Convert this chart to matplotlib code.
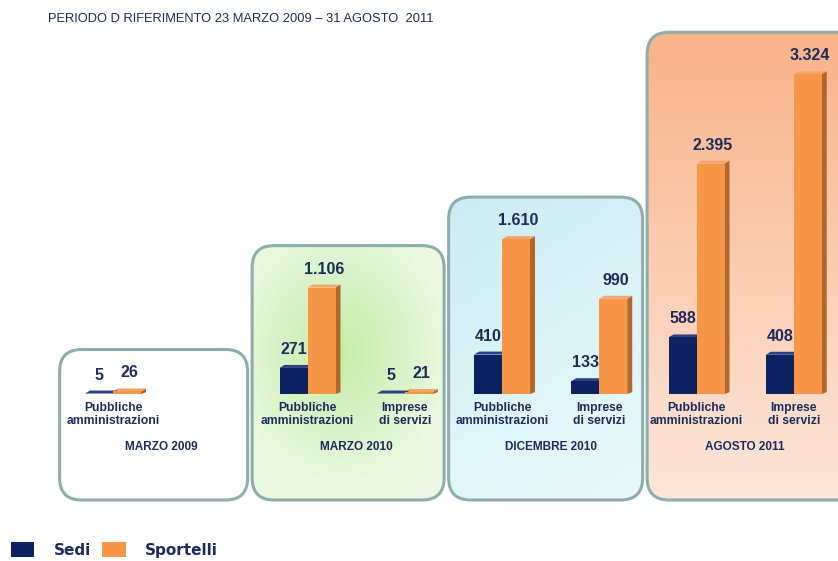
import numpy as np
import matplotlib.pyplot as plt
from matplotlib.patches import FancyBboxPatch, Polygon, Patch

# ---- dati ----------------------------------------------------------
periods = ["MARZO 2009", "MARZO 2010", "DICEMBRE 2010", "AGOSTO 2011"]
group_labels = ["Pubbliche\namministrazioni",
                "Pubbliche\namministrazioni", "Imprese\ndi servizi",
                "Pubbliche\namministrazioni", "Imprese\ndi servizi",
                "Pubbliche\namministrazioni", "Imprese\ndi servizi"]
group_period = [0, 1, 1, 2, 2, 3, 3]
group_slot = [0, 2, 3, 4, 5, 6, 7]
sedi = [5, 271, 5, 410, 133, 588, 408]
sportelli = [26, 1106, 21, 1610, 990, 2395, 3324]

title = "PERIODO D RIFERIMENTO 23 MARZO 2009 \u2013 31 AGOSTO  2011"

# ---- stile ---------------------------------------------------------
C_SEDI = "#0d2260"
C_SEDI_TOP = "#2c4284"
C_SPORT = "#f79646"
C_SPORT_SIDE = "#b0662c"
C_SPORT_TOP = "#f3a56a"
C_TEXT = "#1c2c5e"
C_BORDER = "#8eaeab"
FONT = "Liberation Sans"

# geometria (pixel)
W, H = 838, 561
SLOT0 = 113.0      # x del primo gruppo
SLOT_PX = 97.25    # distanza tra gruppi
BASE = 394.0       # linea di base delle barre
UNIT_PX = 0.0962   # pixel per unita'
BAR_W = 28 / SLOT_PX
DX, DY = 5 / SLOT_PX, 3 / UNIT_PX


def x_px(s):
    return SLOT0 + s * SLOT_PX


def y_px(v):
    return BASE - v * UNIT_PX


def fmt(v):
    return f"{v:,}".replace(",", ".")


fig = plt.figure(figsize=(W / 100, H / 100), dpi=100)
fig.patch.set_facecolor("white")

# sfondo in coordinate pixel per i riquadri
bg = fig.add_axes([0, 0, 1, 1])
bg.set_xlim(0, W)
bg.set_ylim(H, 0)
bg.axis("off")

ax = fig.add_axes([0, 0, 1, 1])
ax.patch.set_alpha(0)
ax.set_xlim(-SLOT0 / SLOT_PX, (W - SLOT0) / SLOT_PX)
ax.set_ylim(-(H - BASE) / UNIT_PX, BASE / UNIT_PX)
ax.axis("off")


# ---- riquadri dei periodi -----------------------------------------
def gradient(kind, w, h):
    yy, xx = np.mgrid[0:1:h * 1j, 0:1:w * 1j]
    if kind == "white":
        c0 = c1 = np.array([1.0, 1.0, 1.0])
        t = np.zeros_like(xx)
    elif kind == "green":
        c0 = np.array([0xc2, 0xec, 0xa6]) / 255
        c1 = np.array([0xec, 0xf9, 0xe2]) / 255
        t = np.clip(np.hypot((xx - 0.45) * 1.0, (yy - 0.42) * 1.1) / 0.6, 0, 1)
    elif kind == "cyan":
        c0 = np.array([0xcb, 0xee, 0xf3]) / 255
        c1 = np.array([0xec, 0xf9, 0xfb]) / 255
        t = np.clip(0.7 * yy + 0.3 * xx, 0, 1)
    else:
        c0 = np.array([0xf9, 0xb3, 0x89]) / 255
        c1 = np.array([0xfd, 0xe6, 0xda]) / 255
        t = yy
    return c0 + (c1 - c0) * t[..., None]


fills = ["white", "green", "cyan", "salmon"]
panel_w = [188, 192, 194, 240]
panel_dx = [-102, -104, -102, -98]
panel_bottom = 500
for k in range(len(periods)):
    vmax = max(v for v, p in zip(sportelli, group_period) if p == k)
    top = y_px(vmax) - 42
    left = x_px(2 * k + 0.5) + panel_dx[k]
    width = panel_w[k]
    box = FancyBboxPatch((left, top), width, panel_bottom - top,
                         boxstyle="round,pad=0,rounding_size=22",
                         facecolor="none", edgecolor=C_BORDER, lw=2.2, zorder=2)
    bg.add_patch(box)
    img = gradient(fills[k], 60, 120)
    im = bg.imshow(img, extent=(left, left + width, panel_bottom, top),
                   origin="upper", aspect="auto", interpolation="bilinear", zorder=1)
    im.set_clip_path(box)

# ---- barre ---------------------------------------------------------
slots = np.array(group_slot, dtype=float)
x_sedi = slots - BAR_W / 2
x_sport = slots + BAR_W / 2

for x, v in zip(x_sport, sportelli):
    xr = x + BAR_W / 2
    xl = x - BAR_W / 2
    ax.add_patch(Polygon([(xr, 0), (xr + DX, DY * 0.6), (xr + DX, v + DY), (xr, v)],
                         closed=True, facecolor=C_SPORT_SIDE, edgecolor="none", zorder=3))
    ax.add_patch(Polygon([(xl, v), (xl + DX, v + DY), (xr + DX, v + DY), (xr, v)],
                         closed=True, facecolor=C_SPORT_TOP, edgecolor="none", zorder=3))
for x, v in zip(x_sedi, sedi):
    xl = x - BAR_W / 2
    xr = x + BAR_W / 2
    ax.add_patch(Polygon([(xl, v), (xl + DX, v + DY), (xr + DX, v + DY), (xr, v)],
                         closed=True, facecolor=C_SEDI_TOP, edgecolor="none", zorder=3))

ax.bar(x_sedi, sedi, width=BAR_W, color=C_SEDI, zorder=4)
ax.bar(x_sport, sportelli, width=BAR_W, color=C_SPORT, zorder=4)

# etichette dei valori
gap = 14 / UNIT_PX
for x, v in zip(x_sedi, sedi):
    ax.text(x, v + gap, fmt(v), ha="center", va="baseline", fontsize=11.5,
            fontweight="bold", color=C_TEXT, family=FONT, zorder=5)
for x, v in zip(x_sport, sportelli):
    ax.text(x + DX / 2, v + gap, fmt(v), ha="center", va="baseline", fontsize=11.5,
            fontweight="bold", color=C_TEXT, family=FONT, zorder=5)

# categorie e periodi
for s, lab in zip(group_slot, group_labels):
    ax.annotate(lab, xy=(s, 0), xytext=(0, -5.8), textcoords="offset points",
                ha="center", va="top", fontsize=8.7, fontweight="bold",
                color=C_TEXT, family=FONT, linespacing=1.05, zorder=5)
for k, p in enumerate(periods):
    ax.annotate(p, xy=(2 * k + 0.5, 0), xytext=(0, -38), textcoords="offset points",
                ha="center", va="center", fontsize=8.5, fontweight="bold",
                color=C_TEXT, family=FONT, zorder=5)

# titolo
fig.text(48 / W, 1 - 19 / H, title, ha="left", va="center", fontsize=9.3,
         color=C_TEXT, family=FONT)

# legenda
handles = [Patch(facecolor=C_SEDI, edgecolor="none"),
           Patch(facecolor=C_SPORT, edgecolor="none")]
fig.legend(handles, ["Sedi", "Sportelli"], loc="center left",
           bbox_to_anchor=(-3 / W, 1 - 550 / H), ncol=2, frameon=False,
           prop={"family": "DejaVu Sans", "weight": "bold", "size": 11},
           labelcolor=C_TEXT, handlelength=1.55, handleheight=1.05,
           handletextpad=1.25, columnspacing=0.75)

fig.savefig("out.png", dpi=100, facecolor="white")
